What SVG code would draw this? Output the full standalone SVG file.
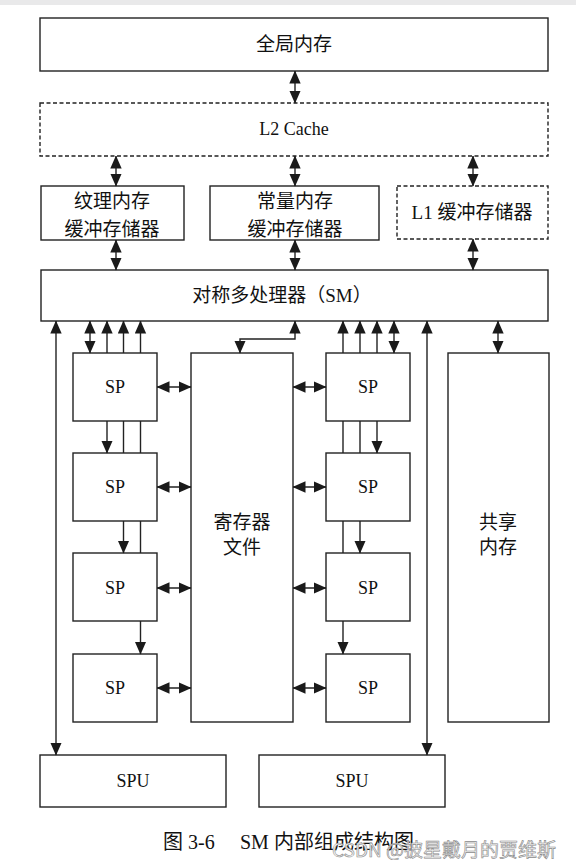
<svg xmlns="http://www.w3.org/2000/svg" width="576" height="860" viewBox="0 0 576 860">
<style>
.box{fill:#fff;stroke:#222;stroke-width:1.4}
.dash{stroke-dasharray:4 2.5}
.c{fill:none;stroke:#222;stroke-width:1.4}
.bi{marker-start:url(#ah);marker-end:url(#ah)}
.one{marker-end:url(#ah)}
text{font-family:"Liberation Serif","Noto Sans CJK SC",serif;fill:#111;text-anchor:middle;dominant-baseline:central}
.cn{font-size:19px}
.sp{font-size:18px}
.wm{font-family:"Noto Sans CJK SC",sans-serif;font-size:19px;fill:#f2f2f2;stroke:#8a8a8a;stroke-width:0.6;text-anchor:start}
</style>
<defs>
<marker id="ah" viewBox="0 0 13 12" refX="12.5" refY="6" markerWidth="13" markerHeight="12" markerUnits="userSpaceOnUse" orient="auto-start-reverse">
<path d="M0,0.3 L13,6 L0,11.7 z" fill="#1a1a1a"/>
</marker>
</defs>
<rect x="0" y="0" width="576" height="860" fill="#fff"/>
<rect x="0" y="0" width="576" height="5" fill="#e9e9ea"/>

<g id="global"><rect class="box" x="40" y="18" width="508" height="53"/><text class="cn" x="294" y="44">全局内存</text></g>
<g id="l2"><rect class="box dash" x="40" y="103" width="508" height="53"/><text class="sp" x="294" y="129">L2 Cache</text></g>
<g id="texture"><rect class="box" x="41" y="186" width="143" height="54"/><text class="cn" x="112" y="201">纹理内存</text><text class="cn" x="112" y="229">缓冲存储器</text></g>
<g id="constant"><rect class="box" x="210" y="186" width="169" height="54"/><text class="cn" x="295" y="201">常量内存</text><text class="cn" x="295" y="229">缓冲存储器</text></g>
<g id="l1"><rect class="box dash" x="397" y="186" width="151" height="53"/><text class="cn" x="472" y="212">L1 缓冲存储器</text></g>
<g id="sm"><rect class="box" x="41" y="270" width="507" height="51"/><text class="cn" x="282" y="295">对称多处理器（SM）</text></g>

<g id="sp-l1"><rect class="box" x="73" y="353" width="84" height="68"/><text class="sp" x="115" y="387">SP</text></g>
<g id="sp-l2"><rect class="box" x="73" y="453" width="84" height="68"/><text class="sp" x="115" y="487">SP</text></g>
<g id="sp-l3"><rect class="box" x="73" y="553" width="84" height="68"/><text class="sp" x="115" y="588">SP</text></g>
<g id="sp-l4"><rect class="box" x="73" y="654" width="84" height="68"/><text class="sp" x="115" y="688">SP</text></g>
<g id="sp-r1"><rect class="box" x="326" y="353" width="84" height="68"/><text class="sp" x="368" y="387">SP</text></g>
<g id="sp-r2"><rect class="box" x="326" y="453" width="84" height="68"/><text class="sp" x="368" y="487">SP</text></g>
<g id="sp-r3"><rect class="box" x="326" y="553" width="84" height="68"/><text class="sp" x="368" y="588">SP</text></g>
<g id="sp-r4"><rect class="box" x="326" y="654" width="84" height="68"/><text class="sp" x="368" y="688">SP</text></g>
<g id="regfile"><rect class="box" x="191" y="353" width="102" height="369"/><text class="cn" x="242" y="522">寄存器</text><text class="cn" x="242" y="547">文件</text></g>
<g id="shared"><rect class="box" x="448" y="353" width="101" height="369"/><text class="cn" x="498" y="522">共享</text><text class="cn" x="498" y="547">内存</text></g>
<g id="spu1"><rect class="box" x="40" y="755" width="186" height="52"/><text class="sp" x="133" y="781">SPU</text></g>
<g id="spu2"><rect class="box" x="259" y="755" width="186" height="52"/><text class="sp" x="352" y="781">SPU</text></g>

<g id="connectors">
<line class="c bi" x1="295" y1="71" x2="295" y2="103"/>
<line class="c bi" x1="116" y1="156" x2="116" y2="186"/>
<line class="c bi" x1="295" y1="156" x2="295" y2="186"/>
<line class="c bi" x1="473" y1="156" x2="473" y2="186"/>
<line class="c bi" x1="116" y1="240" x2="116" y2="270"/>
<line class="c bi" x1="295" y1="240" x2="295" y2="270"/>
<line class="c bi" x1="473" y1="239" x2="473" y2="270"/>

<line class="c bi" x1="90" y1="321" x2="90" y2="353"/>
<line class="c one" x1="107" y1="353" x2="107" y2="321"/>
<line class="c one" x1="123.5" y1="353" x2="123.5" y2="321"/>
<line class="c one" x1="140.5" y1="353" x2="140.5" y2="321"/>
<line class="c one" x1="343" y1="353" x2="343" y2="321"/>
<line class="c one" x1="360" y1="353" x2="360" y2="321"/>
<line class="c one" x1="377" y1="353" x2="377" y2="321"/>
<line class="c bi" x1="394" y1="321" x2="394" y2="353"/>
<line class="c bi" x1="498" y1="321" x2="498" y2="353"/>
<line class="c bi" x1="56" y1="321" x2="56" y2="755"/>
<line class="c bi" x1="427" y1="321" x2="427" y2="755"/>
<path class="c bi" d="M295,321 V339 H240 V353"/>

<line class="c bi" x1="157" y1="387" x2="191" y2="387"/>
<line class="c bi" x1="157" y1="487" x2="191" y2="487"/>
<line class="c bi" x1="157" y1="588" x2="191" y2="588"/>
<line class="c bi" x1="157" y1="688" x2="191" y2="688"/>
<line class="c bi" x1="293" y1="387" x2="326" y2="387"/>
<line class="c bi" x1="293" y1="487" x2="326" y2="487"/>
<line class="c bi" x1="293" y1="588" x2="326" y2="588"/>
<line class="c bi" x1="293" y1="688" x2="326" y2="688"/>

<line class="c one" x1="107" y1="421" x2="107" y2="453"/>
<line class="c" x1="123.5" y1="421" x2="123.5" y2="453"/>
<line class="c" x1="140.5" y1="421" x2="140.5" y2="453"/>
<line class="c one" x1="123.5" y1="521" x2="123.5" y2="553"/>
<line class="c" x1="140.5" y1="521" x2="140.5" y2="553"/>
<line class="c one" x1="140.5" y1="621" x2="140.5" y2="654"/>

<line class="c" x1="343" y1="421" x2="343" y2="453"/>
<line class="c" x1="360" y1="421" x2="360" y2="453"/>
<line class="c one" x1="377" y1="421" x2="377" y2="453"/>
<line class="c" x1="343" y1="521" x2="343" y2="553"/>
<line class="c one" x1="360" y1="521" x2="360" y2="553"/>
<line class="c one" x1="343" y1="621" x2="343" y2="654"/>
</g>

<text x="163" y="842" style="font-size:20px;text-anchor:start">图 3-6</text>
<text x="240" y="842" style="font-size:20px;text-anchor:start">SM 内部组成结构图</text>
<text class="wm" x="332" y="848">CSDN @披星戴月的贾维斯</text>
</svg>
